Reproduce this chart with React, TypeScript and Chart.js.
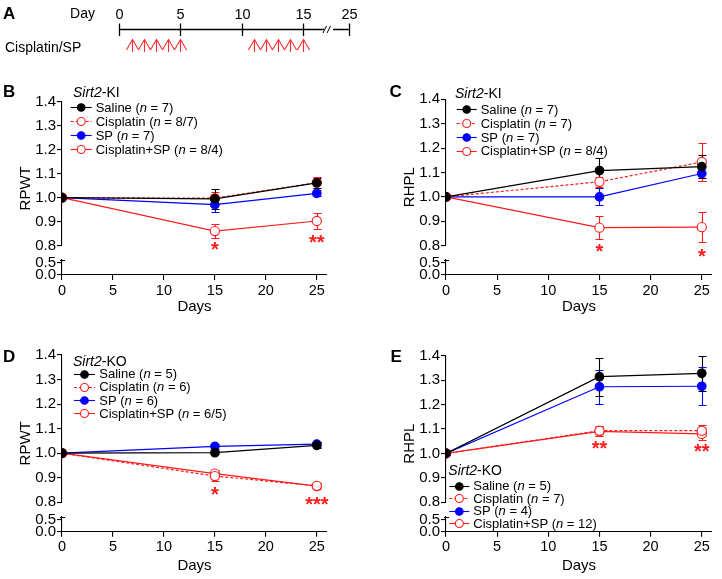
import React, { useEffect, useRef } from 'react';
import { Chart, registerables } from 'chart.js';

Chart.register(...registerables);

const FONT = '"Liberation Sans", Arial, Helvetica, sans-serif';
const BLACK = '#000000';
const RED = '#ff1a1a';
const BLUE = '#0000ff';

// ---------- Panel A: timeline ----------
const TIMELINE_DAYS = [0, 5, 10, 15, 25];
const DOSE_DAYS = [1, 2, 3, 4, 5, 11, 12, 13, 14, 15];
const BREAK_DAY = 20.5;

// ---------- shared ----------
const DAYS = [0, 15, 25];
const X_TICKS = [0, 5, 10, 15, 20, 25];
const Y_TICKS_UPPER = [0.8, 0.9, 1.0, 1.1, 1.2, 1.3, 1.4];
const Y_TICKS_LOWER = [0.0, 0.5];
const SERIES_NAMES = ['Saline', 'Cisplatin', 'SP', 'Cisplatin+SP'];

// ---------- Panel B: Sirt2-KI, RPWT ----------
const B_SALINE = [1.0, 0.995, 1.062];
const B_SALINE_ERR = [0, 0.04, 0.02];
const B_CIS = [1.0, 0.998, 1.063];
const B_CIS_ERR = [0, 0.026, 0.022];
const B_SP = [1.0, 0.971, 1.018];
const B_SP_ERR = [0, 0.03, 0.013];
const B_COMBO = [1.0, 0.861, 0.903];
const B_COMBO_ERR = [0, 0.028, 0.034];
const B_N = ['7', '8/7', '7', '8/4'];
const B_STARS = [{ day: 15, y: 0.803, text: '*' }, { day: 25, y: 0.831, text: '**' }];

// ---------- Panel C: Sirt2-KI, RHPL ----------
const C_SALINE = [1.0, 1.108, 1.124];
const C_SALINE_ERR = [0, 0.05, 0.047];
const C_CIS = [1.0, 1.062, 1.143];
const C_CIS_ERR = [0, 0.021, 0.077];
const C_SP = [1.0, 1.0, 1.096];
const C_SP_ERR = [0, 0.035, 0.03];
const C_COMBO = [1.0, 0.874, 0.876];
const C_COMBO_ERR = [0, 0.047, 0.061];
const C_N = ['7', '7', '7', '8/4'];
const C_STARS = [{ day: 15, y: 0.796, text: '*' }, { day: 25, y: 0.775, text: '*' }];

// ---------- Panel D: Sirt2-KO, RPWT ----------
const D_SALINE = [1.0, 1.002, 1.032];
const D_SALINE_ERR = [0, 0.006, 0.012];
const D_CIS = [1.0, 0.907, 0.867];
const D_CIS_ERR = [0, 0.02, 0.01];
const D_SP = [1.0, 1.028, 1.037];
const D_SP_ERR = [0, 0.01, 0.01];
const D_COMBO = [1.0, 0.917, 0.866];
const D_COMBO_ERR = [0, 0.015, 0.012];
const D_N = ['5', '6', '6', '6/5'];
const D_STARS = [{ day: 15, y: 0.85, text: '*' }, { day: 25, y: 0.809, text: '***' }];

// ---------- Panel E: Sirt2-KO, RHPL ----------
const E_SALINE = [1.0, 1.314, 1.328];
const E_SALINE_ERR = [0, 0.078, 0.072];
const E_CIS = [1.0, 1.093, 1.093];
const E_CIS_ERR = [0, 0.02, 0.023];
const E_SP = [1.0, 1.273, 1.275];
const E_SP_ERR = [0, 0.07, 0.078];
const E_COMBO = [1.0, 1.09, 1.08];
const E_COMBO_ERR = [0, 0.02, 0.023];
const E_N = ['5', '7', '4', '12'];
const E_STARS = [{ day: 15, y: 1.039, text: '**' }, { day: 25, y: 1.028, text: '**' }];

type StyleKey = 'saline' | 'cis' | 'sp' | 'combo';
const STYLES: Record<StyleKey, { color: string; filled: boolean; dash: number[] }> = {
  saline: { color: BLACK, filled: true, dash: [] },
  cis: { color: RED, filled: false, dash: [3, 2] },
  sp: { color: BLUE, filled: true, dash: [] },
  combo: { color: RED, filled: false, dash: [] },
};
const KEYS: StyleKey[] = ['saline', 'cis', 'sp', 'combo'];

type Series = { key: StyleKey; name: string; n: string; values: number[]; errs: number[] };
const mkSeries = (vals: number[][], errs: number[][], ns: string[]): Series[] =>
  KEYS.map((k, i) => ({ key: k, name: SERIES_NAMES[i], n: ns[i], values: vals[i], errs: errs[i] }));

type Box = { left: number; top: number; width: number; height: number };
type PanelCfg = {
  letter: string;
  letterPos: [number, number];
  yTitle: string;
  suffix: string;
  series: Series[];
  stars: { day: number; y: number; text: string }[];
  box: Box;
  area: { left: number; top: number; right: number; bottom: number };
  y08: number;
  lowTop: number;
  y05: number;
  daysY: number;
  legend: { titleX: number; titleY: number; s0: number; s1: number; textX: number; row0: number; dy: number };
};

const PANELS: PanelCfg[] = [
  {
    letter: 'B', letterPos: [3, 91], yTitle: 'RPWT', suffix: '-KI',
    series: mkSeries([B_SALINE, B_CIS, B_SP, B_COMBO], [B_SALINE_ERR, B_CIS_ERR, B_SP_ERR, B_COMBO_ERR], B_N),
    stars: B_STARS,
    box: { left: 0, top: 80, width: 360, height: 235 },
    area: { left: 62, top: 101.7, right: 327, bottom: 275 },
    y08: 245.7, lowTop: 259.5, y05: 262.7, daysY: 307,
    legend: { titleX: 73, titleY: 92, s0: 70.7, s1: 91.7, textX: 95.7, row0: 107.3, dy: 14 },
  },
  {
    letter: 'C', letterPos: [389.5, 90.7], yTitle: 'RHPL', suffix: '-KI',
    series: mkSeries([C_SALINE, C_CIS, C_SP, C_COMBO], [C_SALINE_ERR, C_CIS_ERR, C_SP_ERR, C_COMBO_ERR], C_N),
    stars: C_STARS,
    box: { left: 360, top: 80, width: 362, height: 235 },
    area: { left: 446, top: 99.3, right: 712, bottom: 275 },
    y08: 245.7, lowTop: 259.5, y05: 262.7, daysY: 307,
    legend: { titleX: 455, titleY: 92.7, s0: 456.7, s1: 476.7, textX: 480.7, row0: 109.3, dy: 13.8 },
  },
  {
    letter: 'D', letterPos: [3, 355.7], yTitle: 'RPWT', suffix: '-KO',
    series: mkSeries([D_SALINE, D_CIS, D_SP, D_COMBO], [D_SALINE_ERR, D_CIS_ERR, D_SP_ERR, D_COMBO_ERR], D_N),
    stars: D_STARS,
    box: { left: 0, top: 330, width: 360, height: 249 },
    area: { left: 62, top: 355, right: 327, bottom: 531.7 },
    y08: 502.3, lowTop: 517, y05: 520, daysY: 566,
    legend: { titleX: 73, titleY: 361, s0: 74, s1: 95, textX: 99.3, row0: 373.5, dy: 13.3 },
  },
  {
    letter: 'E', letterPos: [390.5, 355.7], yTitle: 'RHPL', suffix: '-KO',
    series: mkSeries([E_SALINE, E_CIS, E_SP, E_COMBO], [E_SALINE_ERR, E_CIS_ERR, E_SP_ERR, E_COMBO_ERR], E_N),
    stars: E_STARS,
    box: { left: 360, top: 330, width: 362, height: 249 },
    area: { left: 446, top: 355.7, right: 712, bottom: 531.7 },
    y08: 502.3, lowTop: 517, y05: 520, daysY: 566,
    legend: { titleX: 448.3, titleY: 469.5, s0: 449.3, s1: 469.3, textX: 473.3, row0: 485.5, dy: 12.6 },
  },
];

// text centered vertically on cy (cap-height based)
function txt(ctx: CanvasRenderingContext2D, s: string, x: number, cy: number, font: string, size: number, align: CanvasTextAlign = 'left', color = BLACK) {
  ctx.font = font;
  ctx.fillStyle = color;
  ctx.textAlign = align;
  ctx.textBaseline = 'alphabetic';
  ctx.fillText(s, x, cy + size * 0.36);
}

function rich(ctx: CanvasRenderingContext2D, parts: { t: string; i?: boolean }[], x: number, cy: number, size: number) {
  let cx = x;
  for (const p of parts) {
    const f = `${p.i ? 'italic ' : ''}${size}px ${FONT}`;
    ctx.font = f;
    txt(ctx, p.t, cx, cy, f, size);
    cx += ctx.measureText(p.t).width;
  }
}

function PanelChart({ cfg }: { cfg: PanelCfg }) {
  const ref = useRef<HTMLCanvasElement>(null);
  useEffect(() => {
    const { box, area } = cfg;
    const yAxisW = area.left - box.left;
    const xAxisH = box.top + box.height - area.bottom;
    const padTop = area.top - box.top;
    const padRight = box.left + box.width - area.right;
    const upperH = cfg.y08 - area.top;
    const gapH = cfg.lowTop - cfg.y08;
    const lowerH = area.bottom - cfg.lowTop;
    const lowMax = (0.5 * lowerH) / (area.bottom - cfg.y05);
    const titleSize = 15;
    const titlePadBottom = box.top + box.height - cfg.daysY - (titleSize * 1.2) / 2;

    const axisStyle = {
      border: { display: true, color: BLACK, width: 1.1 },
      grid: { display: true, drawOnChartArea: false, drawTicks: true, tickLength: 5, color: BLACK, lineWidth: 1.1 },
    };

    const datasets = cfg.series.map((s) => {
      const st = STYLES[s.key];
      return {
        label: s.name,
        data: DAYS.map((d, i) => ({ x: d, y: s.values[i] })),
        borderColor: st.color,
        backgroundColor: st.color,
        borderWidth: 1.2,
        borderDash: st.dash,
        pointRadius: st.filled ? 4.3 : 4.6,
        pointBackgroundColor: st.filled ? st.color : '#ffffff',
        pointBorderColor: st.color,
        pointBorderWidth: 1.1,
        pointStyle: 'circle',
        tension: 0,
        fill: false,
        yAxisID: 'y',
        xAxisID: 'x',
      };
    });

    const decor = {
      id: 'decor' + cfg.letter,
      beforeDatasetsDraw(chart: any) {
        const ctx = chart.ctx as CanvasRenderingContext2D;
        const xs = chart.scales.x;
        const ys = chart.scales.y;
        ctx.save();
        ctx.lineWidth = 1.1;
        ctx.setLineDash([]);
        for (let k = cfg.series.length - 1; k >= 0; k--) {
          const s = cfg.series[k];
          ctx.strokeStyle = STYLES[s.key].color;
          DAYS.forEach((d, i) => {
            const e = s.errs[i];
            if (!e) return;
            const px = Math.round(xs.getPixelForValue(d)) + 0.5;
            const t = Math.round(ys.getPixelForValue(s.values[i] + e)) + 0.5;
            const b = Math.round(ys.getPixelForValue(s.values[i] - e)) + 0.5;
            ctx.beginPath();
            ctx.moveTo(px, t);
            ctx.lineTo(px, b);
            ctx.moveTo(px - 4, t);
            ctx.lineTo(px + 4, t);
            ctx.moveTo(px - 4, b);
            ctx.lineTo(px + 4, b);
            ctx.stroke();
          });
        }
        ctx.restore();
      },
      afterDraw(chart: any) {
        const ctx = chart.ctx as CanvasRenderingContext2D;
        const xs = chart.scales.x;
        const ys = chart.scales.y;
        const yl = chart.scales.yLow;
        const ca = chart.chartArea;
        ctx.save();
        // small cap at the top of the lower axis segment
        ctx.strokeStyle = BLACK;
        ctx.lineWidth = 1;
        ctx.beginPath();
        const capY = Math.round(yl.top) + 0.5;
        ctx.moveTo(ca.left - 2, capY);
        ctx.lineTo(ca.left + 3, capY);
        ctx.stroke();

        // y title
        ctx.save();
        ctx.translate(ca.left - 37.5, (ca.top + ca.bottom) / 2);
        ctx.rotate(-Math.PI / 2);
        txt(ctx, cfg.yTitle, 0, 0, `${titleSize}px ${FONT}`, titleSize, 'center');
        ctx.restore();

        // significance stars
        for (const st of cfg.stars) {
          const px = xs.getPixelForValue(st.day);
          const py = ys.getPixelForValue(st.y);
          ctx.font = `bold 20px ${FONT}`;
          ctx.fillStyle = RED;
          ctx.textAlign = 'center';
          ctx.textBaseline = 'alphabetic';
          ctx.fillText(st.text, px, py + 20 * 0.56);
        }

        // page-coordinate decorations
        ctx.save();
        ctx.translate(-box.left, -box.top);
        txt(ctx, cfg.letter, cfg.letterPos[0], cfg.letterPos[1], `bold 17px ${FONT}`, 17);
        const L = cfg.legend;
        rich(ctx, [{ t: 'Sirt2', i: true }, { t: cfg.suffix }], L.titleX, L.titleY, 14);
        cfg.series.forEach((s, i) => {
          const st = STYLES[s.key];
          const ry = L.row0 + i * L.dy;
          const cy = Math.round(ry) + 0.5;
          ctx.strokeStyle = st.color;
          ctx.lineWidth = 1.1;
          ctx.setLineDash(st.dash);
          ctx.beginPath();
          ctx.moveTo(L.s0, cy);
          ctx.lineTo(L.s1, cy);
          ctx.stroke();
          ctx.setLineDash([]);
          ctx.beginPath();
          ctx.arc((L.s0 + L.s1) / 2, cy, st.filled ? 3.8 : 4, 0, Math.PI * 2);
          ctx.fillStyle = st.filled ? st.color : '#ffffff';
          ctx.fill();
          ctx.stroke();
          rich(ctx, [{ t: s.name + ' (' }, { t: 'n', i: true }, { t: ' = ' + s.n + ')' }], L.textX, ry, 13);
        });
        ctx.restore();
        ctx.restore();
      },
    };

    const yTicks = { font: { family: FONT, size: 15 }, color: BLACK, padding: 1, autoSkip: false, callback: (v: any) => Number(v).toFixed(1) };

    const chart = new Chart(ref.current as HTMLCanvasElement, {
      type: 'line',
      data: { datasets: datasets as any },
      options: {
        responsive: false,
        animation: false,
        events: [],
        layout: { padding: { top: padTop, right: padRight, left: 0, bottom: 0 } },
        plugins: { legend: { display: false }, tooltip: { enabled: false }, title: { display: false } },
        scales: {
          // stacked left axes: the last one listed is placed on top
          yLow: {
            type: 'linear',
            position: 'left',
            stack: 'v',
            stackWeight: lowerH,
            min: 0,
            max: lowMax,
            afterBuildTicks: (s: any) => {
              s.ticks = Y_TICKS_LOWER.map((v) => ({ value: v }));
            },
            afterFit: (s: any) => {
              s.width = yAxisW;
            },
            ticks: yTicks,
            ...axisStyle,
          },
          yGap: {
            type: 'linear',
            position: 'left',
            stack: 'v',
            stackWeight: gapH,
            min: 0,
            max: 1,
            afterFit: (s: any) => {
              s.width = yAxisW;
            },
            border: { display: false },
            grid: { display: false },
            ticks: { display: false },
          },
          y: {
            type: 'linear',
            position: 'left',
            stack: 'v',
            stackWeight: upperH,
            min: 0.8,
            max: 1.4,
            afterBuildTicks: (s: any) => {
              s.ticks = Y_TICKS_UPPER.map((v) => ({ value: v }));
            },
            afterFit: (s: any) => {
              s.width = yAxisW;
            },
            ticks: yTicks,
            ...axisStyle,
          },
          x: {
            type: 'linear',
            position: 'bottom',
            min: 0,
            max: 26,
            afterBuildTicks: (s: any) => {
              s.ticks = X_TICKS.map((v) => ({ value: v }));
            },
            afterFit: (s: any) => {
              s.height = xAxisH;
            },
            ticks: { font: { family: FONT, size: 14.5 }, color: BLACK, padding: 2, maxRotation: 0, autoSkip: false },
            title: {
              display: true,
              text: 'Days',
              color: BLACK,
              font: { family: FONT, size: titleSize },
              padding: { top: 0, bottom: titlePadBottom },
            },
            ...axisStyle,
          },
        },
      } as any,
      plugins: [decor],
    });
    return () => chart.destroy();
  }, [cfg]);
  const { box } = cfg;
  return (
    <canvas
      ref={ref}
      width={box.width}
      height={box.height}
      style={{ position: 'absolute', left: box.left, top: box.top, width: box.width, height: box.height }}
    />
  );
}

const schematic = (d: number) => (d <= 15 ? d : 15 + (d - 15) * 0.376);

function TimelineChart() {
  const ref = useRef<HTMLCanvasElement>(null);
  useEffect(() => {
    const plugin = {
      id: 'timeline',
      afterDraw(chart: any) {
        const ctx = chart.ctx as CanvasRenderingContext2D;
        const xs = chart.scales.x;
        const pos = (d: number) => xs.getPixelForValue(schematic(d));
        const lineY = 29.5;
        ctx.save();
        txt(ctx, 'A', 3, 13.3, `bold 17px ${FONT}`, 17);
        txt(ctx, 'Day', 82.5, 13.3, `14px ${FONT}`, 14, 'center');
        txt(ctx, 'Cisplatin/SP', 5, 47, `14px ${FONT}`, 14);
        // axis line with break
        const bx = pos(BREAK_DAY);
        ctx.strokeStyle = BLACK;
        ctx.lineWidth = 1.3;
        ctx.beginPath();
        ctx.moveTo(pos(TIMELINE_DAYS[0]), lineY);
        ctx.lineTo(bx - 4, lineY);
        ctx.moveTo(bx + 5, lineY);
        ctx.lineTo(pos(TIMELINE_DAYS[TIMELINE_DAYS.length - 1]), lineY);
        ctx.stroke();
        ctx.lineWidth = 1;
        ctx.beginPath();
        ctx.moveTo(bx - 5, lineY + 3.5);
        ctx.lineTo(bx - 1.5, lineY - 3.5);
        ctx.moveTo(bx - 1, lineY + 3.5);
        ctx.lineTo(bx + 2.5, lineY - 3.5);
        ctx.stroke();
        ctx.lineWidth = 1.3;
        for (const d of TIMELINE_DAYS) {
          const x = Math.round(pos(d)) + 0.5;
          ctx.beginPath();
          ctx.moveTo(x, lineY - 6);
          ctx.lineTo(x, lineY + 6.5);
          ctx.stroke();
          txt(ctx, String(d), x, 13.3, `14.5px ${FONT}`, 14.5, 'center');
        }
        // dosing arrows
        ctx.strokeStyle = '#ff2a2a';
        ctx.lineWidth = 1.1;
        for (const d of DOSE_DAYS) {
          const x = Math.round(pos(d)) + 0.5;
          ctx.beginPath();
          ctx.moveTo(x, 39.5);
          ctx.lineTo(x, 52);
          ctx.moveTo(x - 6.1, 50);
          ctx.lineTo(x, 39.5);
          ctx.lineTo(x + 6.1, 50);
          ctx.stroke();
        }
        ctx.restore();
      },
    };
    const chart = new Chart(ref.current as HTMLCanvasElement, {
      type: 'line',
      data: { datasets: [] },
      options: {
        responsive: false,
        animation: false,
        events: [],
        layout: { padding: { left: 119.3, right: 722 - 348.7, top: 0, bottom: 0 } },
        plugins: { legend: { display: false }, tooltip: { enabled: false } },
        scales: {
          x: { type: 'linear', display: false, min: 0, max: schematic(25) },
          y: { type: 'linear', display: false, min: 0, max: 1 },
        },
      } as any,
      plugins: [plugin],
    });
    return () => chart.destroy();
  }, []);
  return (
    <canvas ref={ref} width={722} height={80} style={{ position: 'absolute', left: 0, top: 0, width: 722, height: 80 }} />
  );
}

export default function App() {
  return (
    <div style={{ position: 'fixed', left: 0, top: 0, width: 722, height: 579, background: '#ffffff', overflow: 'hidden' }}>
      <TimelineChart />
      {PANELS.map((p) => (
        <PanelChart key={p.letter} cfg={p} />
      ))}
    </div>
  );
}
